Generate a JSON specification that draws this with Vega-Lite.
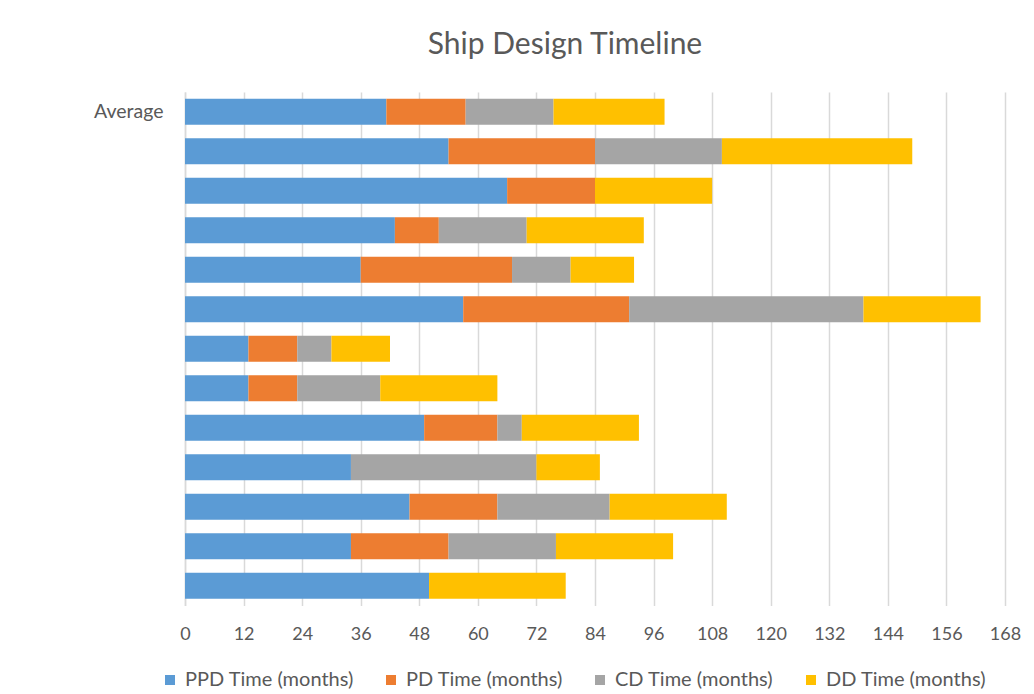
{
  "$schema": "https://vega.github.io/schema/vega-lite/v6.json",
  "autosize": "none",
  "width": 820,
  "height": 513.5,
  "padding": {"left": 185, "top": 92, "right": 29, "bottom": 88.5},
  "background": "white",
  "title": {
    "text": "Ship Design Timeline",
    "fontSize": 30,
    "font": "Lato",
    "fontWeight": "normal",
    "color": "#595959",
    "anchor": "middle",
    "dx": -30,
    "offset": 32
  },
  "config": {
    "view": {"stroke": null},
    "font": "Lato"
  },
  "data": {
    "values": [
      {"ship": "Average", "phase": "PPD Time (months)", "k": 1, "months": 41.25},
      {"ship": "Average", "phase": "PD Time (months)", "k": 2, "months": 16.25},
      {"ship": "Average", "phase": "CD Time (months)", "k": 3, "months": 18},
      {"ship": "Average", "phase": "DD Time (months)", "k": 4, "months": 22.75},
      {"ship": "S1", "phase": "PPD Time (months)", "k": 1, "months": 54},
      {"ship": "S1", "phase": "PD Time (months)", "k": 2, "months": 30},
      {"ship": "S1", "phase": "CD Time (months)", "k": 3, "months": 26},
      {"ship": "S1", "phase": "DD Time (months)", "k": 4, "months": 39},
      {"ship": "S2", "phase": "PPD Time (months)", "k": 1, "months": 66},
      {"ship": "S2", "phase": "PD Time (months)", "k": 2, "months": 18},
      {"ship": "S2", "phase": "CD Time (months)", "k": 3, "months": 0},
      {"ship": "S2", "phase": "DD Time (months)", "k": 4, "months": 24},
      {"ship": "S3", "phase": "PPD Time (months)", "k": 1, "months": 43},
      {"ship": "S3", "phase": "PD Time (months)", "k": 2, "months": 9},
      {"ship": "S3", "phase": "CD Time (months)", "k": 3, "months": 18},
      {"ship": "S3", "phase": "DD Time (months)", "k": 4, "months": 24},
      {"ship": "S4", "phase": "PPD Time (months)", "k": 1, "months": 36},
      {"ship": "S4", "phase": "PD Time (months)", "k": 2, "months": 31},
      {"ship": "S4", "phase": "CD Time (months)", "k": 3, "months": 12},
      {"ship": "S4", "phase": "DD Time (months)", "k": 4, "months": 13},
      {"ship": "S5", "phase": "PPD Time (months)", "k": 1, "months": 57},
      {"ship": "S5", "phase": "PD Time (months)", "k": 2, "months": 34},
      {"ship": "S5", "phase": "CD Time (months)", "k": 3, "months": 48},
      {"ship": "S5", "phase": "DD Time (months)", "k": 4, "months": 24},
      {"ship": "S6", "phase": "PPD Time (months)", "k": 1, "months": 13},
      {"ship": "S6", "phase": "PD Time (months)", "k": 2, "months": 10},
      {"ship": "S6", "phase": "CD Time (months)", "k": 3, "months": 7},
      {"ship": "S6", "phase": "DD Time (months)", "k": 4, "months": 12},
      {"ship": "S7", "phase": "PPD Time (months)", "k": 1, "months": 13},
      {"ship": "S7", "phase": "PD Time (months)", "k": 2, "months": 10},
      {"ship": "S7", "phase": "CD Time (months)", "k": 3, "months": 17},
      {"ship": "S7", "phase": "DD Time (months)", "k": 4, "months": 24},
      {"ship": "S8", "phase": "PPD Time (months)", "k": 1, "months": 49},
      {"ship": "S8", "phase": "PD Time (months)", "k": 2, "months": 15},
      {"ship": "S8", "phase": "CD Time (months)", "k": 3, "months": 5},
      {"ship": "S8", "phase": "DD Time (months)", "k": 4, "months": 24},
      {"ship": "S9", "phase": "PPD Time (months)", "k": 1, "months": 34},
      {"ship": "S9", "phase": "PD Time (months)", "k": 2, "months": 0},
      {"ship": "S9", "phase": "CD Time (months)", "k": 3, "months": 38},
      {"ship": "S9", "phase": "DD Time (months)", "k": 4, "months": 13},
      {"ship": "S10", "phase": "PPD Time (months)", "k": 1, "months": 46},
      {"ship": "S10", "phase": "PD Time (months)", "k": 2, "months": 18},
      {"ship": "S10", "phase": "CD Time (months)", "k": 3, "months": 23},
      {"ship": "S10", "phase": "DD Time (months)", "k": 4, "months": 24},
      {"ship": "S11", "phase": "PPD Time (months)", "k": 1, "months": 34},
      {"ship": "S11", "phase": "PD Time (months)", "k": 2, "months": 20},
      {"ship": "S11", "phase": "CD Time (months)", "k": 3, "months": 22},
      {"ship": "S11", "phase": "DD Time (months)", "k": 4, "months": 24},
      {"ship": "S12", "phase": "PPD Time (months)", "k": 1, "months": 50},
      {"ship": "S12", "phase": "PD Time (months)", "k": 2, "months": 0},
      {"ship": "S12", "phase": "CD Time (months)", "k": 3, "months": 0},
      {"ship": "S12", "phase": "DD Time (months)", "k": 4, "months": 28}
    ]
  },
  "mark": {"type": "bar", "strokeWidth": 0},
  "encoding": {
    "y": {
      "field": "ship",
      "type": "nominal",
      "sort": null,
      "scale": {
        "domain": ["Average", "S1", "S2", "S3", "S4", "S5", "S6", "S7", "S8", "S9", "S10", "S11", "S12"],
        "paddingInner": 0.34,
        "paddingOuter": 0.17
      },
      "axis": {
        "title": null,
        "ticks": false,
        "domain": true,
        "domainColor": "#d9d9d9",
        "domainWidth": 1.5,
        "labelExpr": "datum.value == 'Average' ? 'Average' : ''",
        "labelFont": "Lato",
        "labelFontSize": 19.5,
        "labelColor": "#595959",
        "labelPadding": 22
      }
    },
    "x": {
      "field": "months",
      "type": "quantitative",
      "stack": "zero",
      "scale": {"domain": [0, 168], "nice": false},
      "axis": {
        "title": null,
        "values": [0, 12, 24, 36, 48, 60, 72, 84, 96, 108, 120, 132, 144, 156, 168],
        "ticks": false,
        "domain": false,
        "grid": true,
        "gridColor": "#d9d9d9",
        "gridWidth": 1.5,
        "labelFlush": false,
        "labelOverlap": false,
        "labelFont": "Lato",
        "labelFontSize": 18,
        "labelColor": "#595959",
        "labelPadding": 20
      }
    },
    "color": {
      "field": "phase",
      "type": "nominal",
      "scale": {
        "domain": ["PPD Time (months)", "PD Time (months)", "CD Time (months)", "DD Time (months)"],
        "range": ["#5B9BD5", "#ED7D31", "#A5A5A5", "#FFC000"]
      },
      "legend": {
        "title": null,
        "orient": "none",
        "direction": "horizontal",
        "legendX": -25,
        "legendY": 578,
        "symbolType": "square",
        "symbolSize": 100,
        "symbolStrokeWidth": 0,
        "labelFont": "Lato",
        "labelFontSize": 20,
        "labelLimit": 400,
        "labelColor": "#595959",
        "labelOffset": 5,
        "columnPadding": 27
      }
    },
    "order": {"field": "k", "type": "quantitative"}
  }
}
